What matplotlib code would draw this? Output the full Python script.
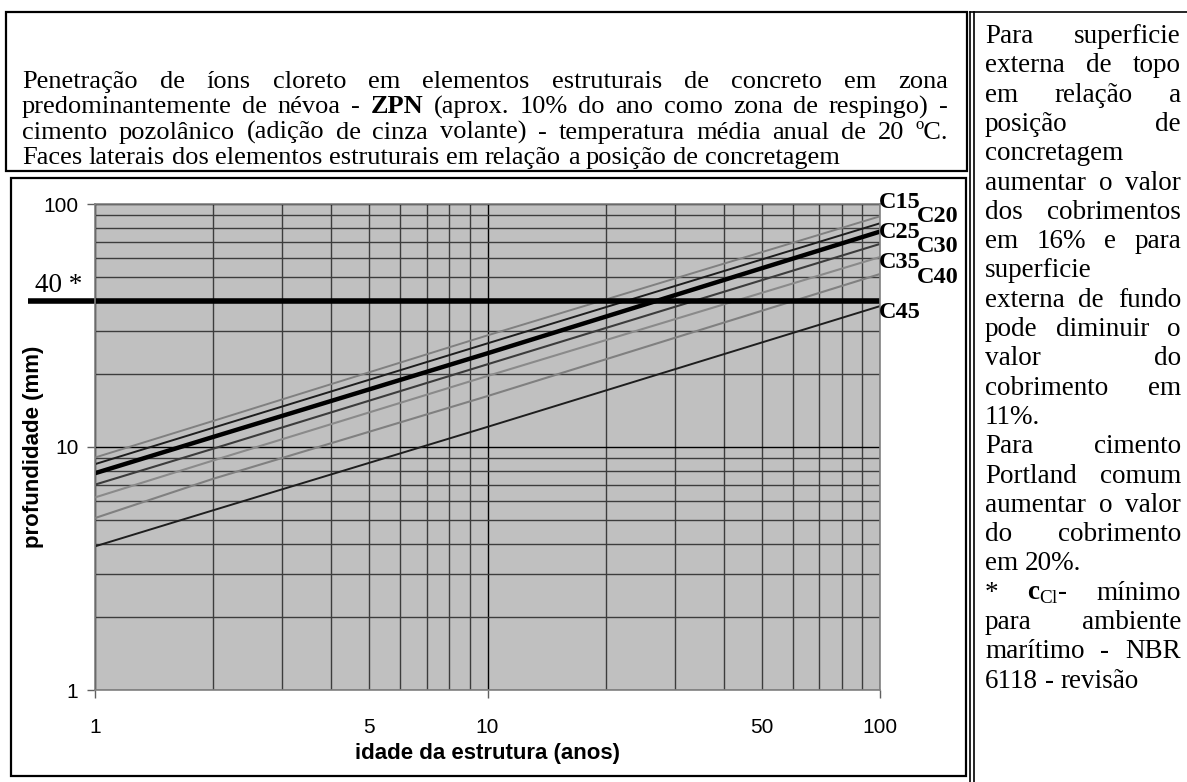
import matplotlib

matplotlib.use("Agg", force=True)

import matplotlib.pyplot as plt
from matplotlib.lines import Line2D
from matplotlib.patches import Rectangle
from matplotlib.ticker import FixedLocator, FuncFormatter, NullFormatter

W, H = 1187, 782

# chart data
years = [1, 2, 10, 100]
c15 = [9.05, 12.8, 28.8, 89.0]
c20 = [8.5, 12.0, 26.7, 83.3]
c25 = [7.8, 11.0, 24.3, 77.0]
c30 = [7.0, 9.84, 21.9, 68.5]
c35 = [6.2, 8.8, 19.6, 60.5]
c40 = [5.1, 7.4, 16.2, 51.5]
c45 = [3.9, 5.49, 12.1, 38.0]
series_names = ["C15", "C20", "C25", "C30", "C35", "C40", "C45"]
series_values = [c15, c20, c25, c30, c35, c40, c45]

y_ticks = [1, 10, 100]
x_ticks = [1, 10, 100]
x_tick_labels = [1, 5, 10, 50, 100]
limit_value = 40
limit_label = "40 *"
x_title = "idade da estrutura (anos)"
y_title = "profundidade (mm)"

title_lines = [
    "Penetração de íons cloreto em elementos estruturais de concreto em zona",
    "predominantemente de névoa - ZPN (aprox. 10% do ano como zona de respingo) -",
    "cimento pozolânico (adição de cinza volante) - temperatura média anual de 20 ºC.",
    "Faces laterais dos elementos estruturais em relação a posição de concretagem",
]
title_bold = {"ZPN"}

note_lines = [
    "Para superficie",
    "externa de topo",
    "em relação a",
    "posição de",
    "concretagem",
    "aumentar o valor",
    "dos cobrimentos",
    "em 16% e para",
    "superficie",
    "externa de fundo",
    "pode diminuir o",
    "valor do",
    "cobrimento em",
    "11%.",
    "Para cimento",
    "Portland comum",
    "aumentar o valor",
    "do cobrimento",
    "em 20%.",
    "* $\\mathbf{c}_{\\mathrm{Cl}}$- mínimo",
    "para ambiente",
    "marítimo - NBR",
    "6118 - revisão",
]
note_ragged = {"concretagem", "superficie", "11%.", "em 20%.", "6118 - revisão"}

# styles
line_styles = {
    "C15": ("#808080", 1.4),
    "C20": ("#1e1e1e", 1.4),
    "C25": ("#000000", 3.2),
    "C30": ("#3c3c3c", 1.5),
    "C35": ("#8a8a8a", 1.5),
    "C40": ("#808080", 1.5),
    "C45": ("#1e1e1e", 1.4),
}
label_pos = {
    "C15": (879, 202), "C20": (917, 217), "C25": (879, 233), "C30": (917, 247),
    "C35": (879, 262), "C40": (917, 277), "C45": (879, 313),
}

SERIF = "Liberation Serif"
SANS = "Liberation Sans"
plt.rcParams["mathtext.fontset"] = "custom"
plt.rcParams["mathtext.rm"] = SERIF
plt.rcParams["mathtext.bf"] = SERIF + ":bold"


def fx(x):
    return x / W


def fy(y):
    return 1 - y / H


def box(fig, x0, y0, x1, y1, lw=1.6):
    fig.patches.append(Rectangle((fx(x0), fy(y1)), fx(x1) - fx(x0), fy(y0) - fy(y1),
                                 transform=fig.transFigure, fill=False, ec="black", lw=lw))


def vline(fig, x, y0, y1, lw=1.2):
    fig.lines.append(Line2D([fx(x), fx(x)], [fy(y0), fy(y1)], transform=fig.transFigure,
                            color="black", lw=lw))


def hline(fig, x0, x1, y, lw=1.2):
    fig.lines.append(Line2D([fx(x0), fx(x1)], [fy(y), fy(y)], transform=fig.transFigure,
                            color="black", lw=lw))


def draw_line(fig, renderer, text, x0, x1, y, size, justify, bold=()):
    words = text.split(" ")
    texts = []
    for w in words:
        t = fig.text(0, fy(y), w, fontsize=size, family=SERIF, va="baseline", ha="left",
                     fontweight="bold" if w in bold else "normal")
        texts.append(t)
    widths = [t.get_window_extent(renderer).width for t in texts]
    if justify and len(words) > 1:
        gap = (x1 - x0 - sum(widths)) / (len(words) - 1)
    else:
        gap = 0.25 * size * fig.dpi / 72
    x = x0
    for t, w in zip(texts, widths):
        t.set_x(fx(x))
        x += w + gap


fig = plt.figure(figsize=(W / 100, H / 100), dpi=100)
renderer = fig.canvas.get_renderer()

# frames
box(fig, 6, 12, 967, 171)
box(fig, 11, 178, 966, 776)
vline(fig, 970, 12, 782)
vline(fig, 974, 12, 782)
hline(fig, 970, 1187, 12)

# title block
for i, line in enumerate(title_lines):
    draw_line(fig, renderer, line, 22, 948, 88 + 25.3 * i, 19,
              justify=i < len(title_lines) - 1, bold=title_bold)

# side notes
for i, line in enumerate(note_lines):
    draw_line(fig, renderer, line, 985, 1181, 43 + 29.3 * i, 19.5,
              justify=line not in note_ragged)

# plot area
ax = fig.add_axes([fx(95), fy(690), fx(880) - fx(95), fy(204) - fy(690)])
ax.set_facecolor("#c0c0c0")
ax.set_xscale("log")
ax.set_yscale("log")
ax.set_xlim(1, 100)
ax.set_ylim(1, 100)

ax.grid(which="minor", color="#3c3c3c", lw=1.0)
ax.grid(which="major", color="#000000", lw=1.0)
ax.set_axisbelow(True)

ax.yaxis.set_major_locator(FixedLocator(y_ticks))
ax.yaxis.set_major_formatter(FuncFormatter(lambda v, p: f"{v:g}"))
ax.yaxis.set_minor_formatter(NullFormatter())
ax.xaxis.set_major_locator(FixedLocator(x_ticks))
ax.xaxis.set_major_formatter(FuncFormatter(lambda v, p: f"{v:g}"))
minor_x = [v * m for v in (1, 10) for m in range(2, 10)]
ax.xaxis.set_minor_locator(FixedLocator(minor_x))
ax.xaxis.set_minor_formatter(
    FuncFormatter(lambda v, p: f"{v:g}" if round(v) in x_tick_labels else ""))
ax.tick_params(which="major", length=6, color="#606060", labelsize=15, width=1)
ax.tick_params(which="minor", length=0, labelsize=15)
ax.tick_params(axis="y", pad=6)
ax.tick_params(axis="x", which="major", pad=14)
ax.tick_params(axis="x", which="minor", pad=20)
for lab in ax.get_xticklabels(which="both") + ax.get_yticklabels():
    lab.set_family(SANS)
for sp in ax.spines.values():
    sp.set_color("#808080")
    sp.set_linewidth(1.2)

for name, vals in zip(series_names, series_values):
    color, lw = line_styles[name]
    ax.plot(years, vals, color=color, lw=lw, solid_capstyle="butt")

ax.axhline(limit_value, xmin=(28 - 95) / (880 - 95), xmax=1, color="black", lw=4,
           clip_on=False, solid_capstyle="butt")
fig.text(fx(35), fy(292), limit_label, family=SERIF, fontsize=19.5, va="baseline", ha="left")

for name in series_names:
    x, y = label_pos[name]
    fig.text(fx(x), fy(y), name, family=SERIF, fontsize=17.5, fontweight="bold",
             va="center", ha="left")

fig.text(fx(34), fy(447), y_title, family=SANS, fontsize=16, fontweight="bold",
         rotation=90, va="center", ha="center")
fig.text(fx(487), fy(754), x_title, family=SANS, fontsize=16, fontweight="bold",
         va="center", ha="center")

fig.savefig("out.png", dpi=100)
